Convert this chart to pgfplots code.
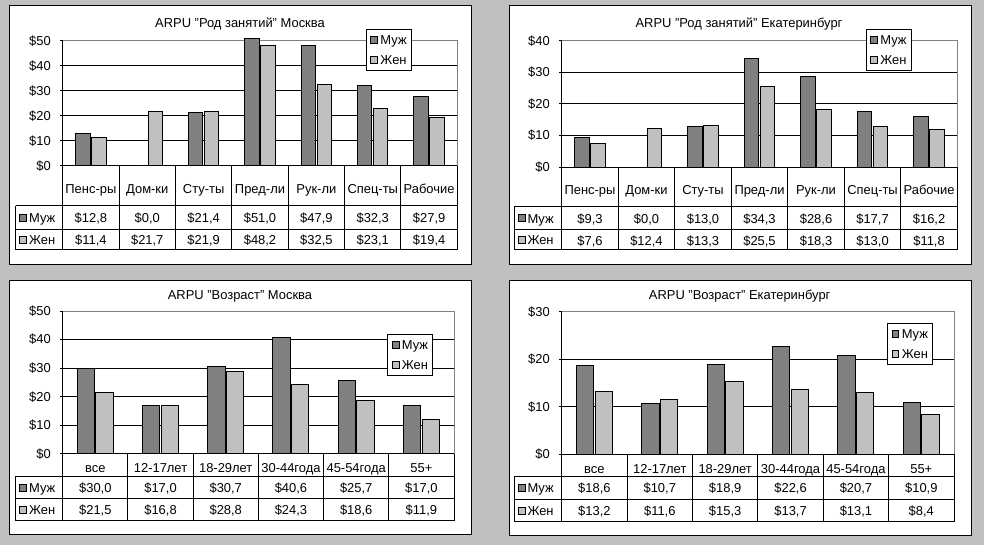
\documentclass[border=0pt]{standalone}
\usepackage{fontspec}
\setmainfont{Liberation Sans}
\usepackage{pgfplots}
\pgfplotsset{compat=1.18}
\usepackage{pgfplotstable}

\definecolor{bg}{RGB}{192,192,192}
\definecolor{muzh}{RGB}{128,128,128}
\definecolor{zhen}{RGB}{192,192,192}
\definecolor{rim}{RGB}{128,128,128}
\newcommand\fs{\fontsize{9.7}{11.5}\selectfont}

% m = Муж, z = Жен
\pgfplotstableread{
x m z
0 12.8 11.4
1 0.0 21.7
2 21.4 21.9
3 51.0 48.2
4 47.9 32.5
5 32.3 23.1
6 27.9 19.4
}\msocc
\pgfplotstableread{
x m z
0 9.3 7.6
1 0.0 12.4
2 13.0 13.3
3 34.3 25.5
4 28.6 18.3
5 17.7 13.0
6 16.2 11.8
}\ekocc
\pgfplotstableread{
x m z
0 30.0 21.5
1 17.0 16.8
2 30.7 28.8
3 40.6 24.3
4 25.7 18.6
5 17.0 11.9
}\msage
\pgfplotstableread{
x m z
0 18.6 13.2
1 10.7 11.6
2 18.9 15.3
3 22.6 13.7
4 20.7 13.1
5 10.9 8.4
}\ekage

\pgfplotsset{
  panel/.style={
    scale only axis, clip=false,
    axis lines*=left,
    axis line style={black, line width=0.75pt},
    xmin=-0.5, ymin=0,
    xtick style={draw=none},
    xticklabel style={font=\fs, anchor=center, inner sep=0pt, text height=7pt, text depth=0pt},
    ytick distance=10,
    yticklabel={\$\pgfmathprintnumber{\tick}},
    yticklabel style={font=\fs, anchor=east, inner sep=0pt, xshift=-6.5pt},
    ytick style={black, line width=0.75pt},
    tick align=outside, major tick length=2.25pt,
    ymajorgrids, grid style={black, line width=0.75pt},
    /pgf/number format/assume math mode=true,
    legend cell align=left,
    legend style={anchor=north west, draw=black, fill=white, line width=0.75pt, font=\fs,
      inner xsep=2.8pt, inner ysep=3.7pt, row sep=6.8pt, column sep=1.4pt,
      nodes={inner sep=0.5pt, text height=7pt, text depth=0pt}},
  },
  mbar/.style={ybar, bar width=#1, fill=muzh, draw=black, line width=0.75pt,
    legend image code/.code={\filldraw[fill=muzh, draw=black, line width=0.6pt] (0pt,-2.6pt) rectangle (5.2pt,2.6pt);}},
  zbar/.style={ybar, bar width=#1, fill=zhen, draw=black, line width=0.75pt,
    legend image code/.code={\filldraw[fill=zhen, draw=black, line width=0.6pt] (0pt,-2.6pt) rectangle (5.2pt,2.6pt);}},
  rowvals/.style={forget plot, draw=none, mark=none, point meta=explicit,
    nodes near coords={\$\pgfmathprintnumber[fixed,fixed zerofill,precision=1,use comma]{\pgfplotspointmeta}},
    every node near coord/.append style={anchor=center, yshift=#1, font=\fs, inner sep=0pt, text height=7pt, text depth=0pt}},
}

% left edge, plot left, right, axis bottom, three row lines, inner column lines
\newcommand\tablegrid[8]{%
  \draw (#1,#5) -- (#3,#5) (#1,#6) -- (#3,#6) (#1,#7) -- (#3,#7);
  \draw (#1,#5) -- (#1,#7);
  \draw (#2,#4) -- (#2,#7);
  \draw (#3,#4) -- (#3,#7);
  \pgfmathsetmacro\cw{(#3-#2)/(#8+1)}
  \foreach \k in {1,...,#8} {\draw ({#2+\k*\cw},#4) -- ({#2+\k*\cw},#7);}
}
\newcommand\rowhead[4]{%
  \filldraw[fill=#3, draw=black, line width=0.6pt] ({#1+4},{#2-3.5}) rectangle ({#1+11},{#2+3.5});
  \node[anchor=west, font=\fs, inner sep=0pt, text height=7pt, text depth=0pt] at ({#1+13},#2) {#4};
}

\begin{document}
\begin{tikzpicture}
\begin{scope}[x=0.75pt, y=0.75pt]
\fill[bg] (0,0) rectangle (984,545);
\filldraw[fill=white, draw=black, line width=0.75pt] (9,539) rectangle (471,280);
\filldraw[fill=white, draw=black, line width=0.75pt] (509,539) rectangle (971,280);
\filldraw[fill=white, draw=black, line width=0.75pt] (9,264) rectangle (471,10);
\filldraw[fill=white, draw=black, line width=0.75pt] (509,264) rectangle (971,9.5);
\tikzset{every node/.style={font=\fs, text height=7pt, text depth=0pt}}
\node at (240,521.7) {ARPU "Род занятий" Москва};
\node at (739,521.7) {ARPU "Род занятий" Екатеринбург};
\node at (240,250) {ARPU "Возраст" Москва};
\node at (739.7,250) {ARPU "Возраст" Екатеринбург};
\end{scope}

\begin{axis}[panel, at={(47.03pt,284.25pt)}, anchor=south west,
  width=295.95pt, height=93.98pt, xmax=6.5, ymax=50,
  xtick={0,...,6}, xticklabels={Пенс-ры,Дом-ки,Сту-ты,Пред-ли,Рук-ли,Спец-ты,Рабочие},
  xticklabel style={yshift=-14.9pt},
  legend style={at={(0.7686,1.091)}}]
\draw[rim, line width=0.75pt] (rel axis cs:0,1) -- (rel axis cs:1,1) -- (rel axis cs:1,0);
\addplot[mbar=10.8pt, bar shift=-6pt] table[x=x, y=m] {\msocc};
\addplot[zbar=10.8pt, bar shift=6pt] table[x=x, y=z] {\msocc};
\legend{Муж,Жен}
\addplot[rowvals=-38.6pt] table[x=x, y expr=0, meta=m] {\msocc};
\addplot[rowvals=-55.2pt] table[x=x, y expr=0, meta=z] {\msocc};
\end{axis}

\begin{axis}[panel, at={(421.28pt,283.28pt)}, anchor=south west,
  width=296.7pt, height=94.95pt, xmax=6.5, ymax=40,
  xtick={0,...,6}, xticklabels={Пенс-ры,Дом-ки,Сту-ты,Пред-ли,Рук-ли,Спец-ты,Рабочие},
  xticklabel style={yshift=-14.8pt},
  legend style={at={(0.769,1.090)}}]
\draw[rim, line width=0.75pt] (rel axis cs:0,1) -- (rel axis cs:1,1) -- (rel axis cs:1,0);
\addplot[mbar=10.8pt, bar shift=-6pt] table[x=x, y=m] {\ekocc};
\addplot[zbar=10.8pt, bar shift=6pt] table[x=x, y=z] {\ekocc};
\legend{Муж,Жен}
\addplot[rowvals=-38.3pt] table[x=x, y expr=0, meta=m] {\ekocc};
\addplot[rowvals=-55.05pt] table[x=x, y expr=0, meta=z] {\ekocc};
\end{axis}

\begin{axis}[panel, at={(47.03pt,68.25pt)}, anchor=south west,
  width=293.48pt, height=107.25pt, xmax=5.5, ymax=50,
  xtick={0,...,5}, xticklabels={все,12-17лет,18-29лет,30-44года,45-54года,55+},
  xticklabel style={yshift=-8.4pt},
  legend style={at={(0.8296,0.837)}}]
\draw[rim, line width=0.75pt] (rel axis cs:0,1) -- (rel axis cs:1,1) -- (rel axis cs:1,0);
\addplot[mbar=13pt, bar shift=-7pt] table[x=x, y=m] {\msage};
\addplot[zbar=13pt, bar shift=7pt] table[x=x, y=z] {\msage};
\legend{Муж,Жен}
\addplot[rowvals=-25.2pt] table[x=x, y expr=0, meta=m] {\msage};
\addplot[rowvals=-41.9pt] table[x=x, y expr=0, meta=z] {\msage};
\end{axis}

\begin{axis}[panel, at={(421.28pt,68.03pt)}, anchor=south west,
  width=294.23pt, height=106.95pt, xmax=5.5, ymax=30,
  xtick={0,...,5}, xticklabels={все,12-17лет,18-29лет,30-44года,45-54года,55+},
  xticklabel style={yshift=-8.5pt},
  legend style={at={(0.830,0.9187)}}]
\draw[rim, line width=0.75pt] (rel axis cs:0,1) -- (rel axis cs:1,1) -- (rel axis cs:1,0);
\addplot[mbar=13pt, bar shift=-7pt] table[x=x, y=m] {\ekage};
\addplot[zbar=13pt, bar shift=7pt] table[x=x, y=z] {\ekage};
\legend{Муж,Жен}
\addplot[rowvals=-25.4pt] table[x=x, y expr=0, meta=m] {\ekage};
\addplot[rowvals=-42.15pt] table[x=x, y expr=0, meta=z] {\ekage};
\end{axis}

\begin{scope}[x=0.75pt, y=0.75pt, line width=0.75pt]
\tablegrid{15.7}{62.7}{457.3}{379}{339.3}{315.7}{295}{6}
\rowhead{15.7}{327.5}{muzh}{Муж}
\rowhead{15.7}{305.35}{zhen}{Жен}
\tablegrid{514}{561.7}{957.3}{377.7}{338.3}{315}{295}{6}
\rowhead{514}{326.65}{muzh}{Муж}
\rowhead{514}{305}{zhen}{Жен}
\tablegrid{15.7}{62.7}{454}{91}{68.7}{46}{24.3}{5}
\rowhead{15.7}{57.35}{muzh}{Муж}
\rowhead{15.7}{35.15}{zhen}{Жен}
\tablegrid{514}{561.7}{954}{90.7}{68}{45.7}{23.3}{5}
\rowhead{514}{56.85}{muzh}{Муж}
\rowhead{514}{34.5}{zhen}{Жен}
\end{scope}
\end{tikzpicture}
\end{document}
